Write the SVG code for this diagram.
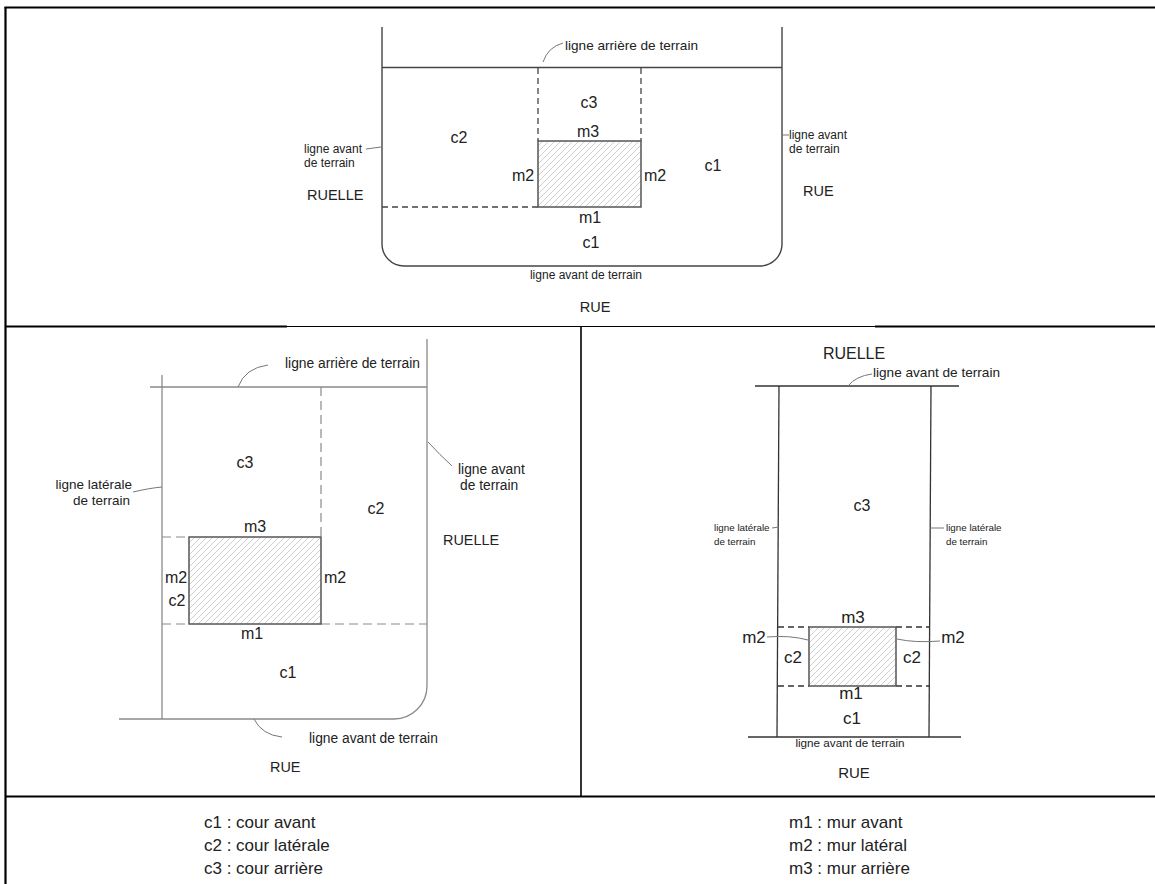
<svg xmlns="http://www.w3.org/2000/svg" width="1155" height="884" viewBox="0 0 1155 884">
<style>
text{font-family:"Liberation Sans",Arial,sans-serif;fill:#222}
.lbl{font-size:16px}
.sm{font-size:12px}
.frame{stroke:#000;fill:none}
.lot1{stroke:#444;stroke-width:1.4;fill:none}
.lot2{stroke:#8a8a8a;stroke-width:1.3;fill:none}
.lot3{stroke:#333;stroke-width:1.3;fill:none}
.d1{stroke:#444;stroke-width:1.3;stroke-dasharray:6 4;fill:none}
.d2{stroke:#8a8a8a;stroke-width:1.2;stroke-dasharray:9 5;fill:none}
.d3{stroke:#333;stroke-width:1.3;stroke-dasharray:6 4;fill:none}
.lead{stroke:#777;stroke-width:1;fill:none}
.bld{fill:url(#hatch);stroke:#555;stroke-width:1.5}
</style>
<defs>
<pattern id="hatch" patternUnits="userSpaceOnUse" width="6" height="6">
<rect width="6" height="6" fill="#fff"/>
<path d="M0,6 L6,0 M-1.5,1.5 L1.5,-1.5 M4.5,7.5 L7.5,4.5" stroke="#c4c4c4" stroke-width="0.8"/>
</pattern>
</defs>
<rect width="1155" height="884" fill="#fff"/>

<g id="frame">
<line class="frame" x1="4.5" y1="7.5" x2="1155" y2="7.5" stroke-width="2.2"/>
<line class="frame" x1="5.5" y1="7" x2="5.5" y2="884" stroke-width="2.2"/>
<line class="frame" x1="5" y1="326.5" x2="287" y2="326.5" stroke-width="2.2"/>
<line class="frame" x1="287" y1="326.5" x2="875" y2="326.5" stroke-width="1.2"/>
<line class="frame" x1="875" y1="326.5" x2="1155" y2="326.5" stroke-width="2.2"/>
<line class="frame" x1="581" y1="326" x2="581" y2="796" stroke-width="1.6"/>
<line class="frame" x1="5" y1="796.5" x2="1155" y2="796.5" stroke-width="2.2"/>
</g>

<g id="plan-top">
<path class="lot1" d="M382,27 V244 A22,22 0 0 0 404,266 H760 A22,22 0 0 0 782,244 V27"/>
<line class="lot1" x1="382" y1="67.5" x2="782" y2="67.5"/>
<line class="d1" x1="538" y1="68" x2="538" y2="141"/>
<line class="d1" x1="641" y1="68" x2="641" y2="141"/>
<line class="d1" x1="382" y1="207" x2="538" y2="207"/>
<rect class="bld" x="538" y="141" width="103" height="66"/>
<text x="565" y="50" font-size="13.6">ligne arrière de terrain</text>
<text class="lbl" x="589" y="108" text-anchor="middle">c3</text>
<text class="lbl" x="588" y="137" text-anchor="middle">m3</text>
<text class="lbl" x="459" y="143" text-anchor="middle">c2</text>
<text class="sm" x="304" y="153">ligne avant</text>
<text class="sm" x="304" y="167">de terrain</text>
<text x="307" y="200" font-size="14.5">RUELLE</text>
<text class="lbl" x="523" y="181" text-anchor="middle">m2</text>
<text class="lbl" x="655" y="181" text-anchor="middle">m2</text>
<text class="lbl" x="713" y="171" text-anchor="middle">c1</text>
<text class="sm" x="789" y="139">ligne avant</text>
<text class="sm" x="789" y="153">de terrain</text>
<text x="803" y="196" font-size="14.5">RUE</text>
<text class="lbl" x="590" y="223" text-anchor="middle">m1</text>
<text class="lbl" x="591" y="248" text-anchor="middle">c1</text>
<text class="sm" x="586" y="279" text-anchor="middle">ligne avant de terrain</text>
<text x="595" y="312" font-size="14.5" text-anchor="middle">RUE</text>
</g>

<g id="plan-bottom-left">
<line class="lot2" x1="162" y1="375" x2="162" y2="719"/>
<line class="lot2" x1="150" y1="387" x2="427" y2="387"/>
<path class="lot2" d="M119,719 H394 A33,33 0 0 0 427,686 V339"/>
<line class="d2" x1="321" y1="387" x2="321" y2="537"/>
<line class="d2" x1="162" y1="537" x2="189" y2="537"/>
<line class="d2" x1="162" y1="624" x2="189" y2="624"/>
<line class="d2" x1="321" y1="624" x2="427" y2="624"/>
<rect class="bld" x="189" y="537" width="132" height="87"/>
<text x="285" y="368" font-size="13.8">ligne arrière de terrain</text>
<text class="lbl" x="245" y="468" text-anchor="middle">c3</text>
<text x="132" y="489" font-size="13.5" text-anchor="end">ligne latérale</text>
<text x="130" y="505" font-size="13.5" text-anchor="end">de terrain</text>
<text x="458" y="474" font-size="13.8">ligne avant</text>
<text x="460" y="490" font-size="13.8">de terrain</text>
<text class="lbl" x="376" y="514" text-anchor="middle">c2</text>
<text x="443" y="545" font-size="14.4">RUELLE</text>
<text class="lbl" x="255" y="532" text-anchor="middle">m3</text>
<text class="lbl" x="176" y="583" text-anchor="middle">m2</text>
<text class="lbl" x="177" y="606" text-anchor="middle">c2</text>
<text class="lbl" x="335" y="583" text-anchor="middle">m2</text>
<text class="lbl" x="252" y="639" text-anchor="middle">m1</text>
<text class="lbl" x="288" y="678" text-anchor="middle">c1</text>
<text x="309" y="743" font-size="13.8">ligne avant de terrain</text>
<text x="270" y="772" font-size="14.4">RUE</text>
</g>

<g id="plan-bottom-right">
<line class="lot3" x1="755" y1="386" x2="959" y2="386"/>
<line class="lot3" x1="748" y1="737" x2="961" y2="737"/>
<line class="lot3" x1="779" y1="386" x2="777" y2="737"/>
<line class="lot3" x1="931" y1="386" x2="929" y2="737"/>
<line class="d3" x1="778" y1="627" x2="809" y2="627"/>
<line class="d3" x1="896" y1="627" x2="930" y2="627"/>
<line class="d3" x1="778" y1="686" x2="809" y2="686"/>
<line class="d3" x1="896" y1="686" x2="930" y2="686"/>
<rect class="bld" x="809" y="627" width="87" height="59"/>
<text x="854" y="359" font-size="16" text-anchor="middle">RUELLE</text>
<text x="873" y="377" font-size="13.6">ligne avant de terrain</text>
<text class="lbl" x="862" y="511" text-anchor="middle">c3</text>
<text x="714" y="531" font-size="9.8">ligne latérale</text>
<text x="714" y="545" font-size="9.8">de terrain</text>
<text x="946" y="531" font-size="9.8">ligne latérale</text>
<text x="946" y="545" font-size="9.8">de terrain</text>
<text x="853" y="623" font-size="17" text-anchor="middle">m3</text>
<text x="754" y="643" font-size="17" text-anchor="middle">m2</text>
<text x="953" y="643" font-size="17" text-anchor="middle">m2</text>
<text x="793" y="663" font-size="17" text-anchor="middle">c2</text>
<text x="912" y="663" font-size="17" text-anchor="middle">c2</text>
<text x="851" y="699" font-size="17" text-anchor="middle">m1</text>
<text x="852" y="724" font-size="17" text-anchor="middle">c1</text>
<text x="850" y="747" font-size="11.7" text-anchor="middle">ligne avant de terrain</text>
<text x="854" y="778" font-size="15" text-anchor="middle">RUE</text>
</g>

<g id="connectors">
<path class="lead" d="M543,62 Q548,47 563,43"/>
<path class="lead" d="M366,149 L381,147"/>
<path class="lead" d="M782,135 L789,135"/>
<path class="lead" d="M238,387 Q245,368 268,365"/>
<path class="lead" d="M133,492 Q150,488 162,487"/>
<path class="lead" d="M428,442 Q440,455 452,466"/>
<path class="lead" d="M254,719 Q262,735 282,737"/>
<path class="lead" d="M848,386 Q856,376 872,374"/>
<path class="lead" d="M772,528 L779,527"/>
<path class="lead" d="M931,528 L944,528"/>
<path class="lead" d="M767,637 Q790,635 808,640"/>
<path class="lead" d="M897,639 Q915,643 940,641"/>
</g>

<g id="legend" font-size="17">
<text x="204" y="828">c1 : cour avant</text>
<text x="204" y="851">c2 : cour latérale</text>
<text x="204" y="874">c3 : cour arrière</text>
<text x="789" y="828">m1 : mur avant</text>
<text x="789" y="851">m2 : mur latéral</text>
<text x="789" y="874">m3 : mur arrière</text>
</g>
</svg>
